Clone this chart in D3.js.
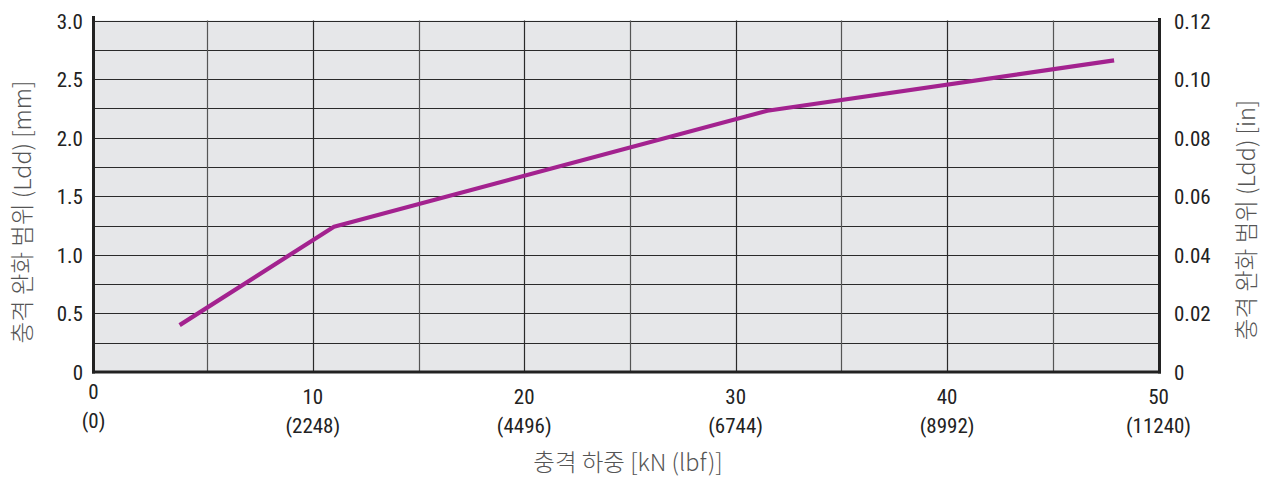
<!DOCTYPE html>
<html>
<head>
<meta charset="utf-8">
<script src="https://cdn.jsdelivr.net/npm/d3@7"></script>
<style>
  html, body { margin: 0; padding: 0; background: #fff; }
  svg { display: block; }
</style>
</head>
<body>
<svg id="chart" width="1268" height="479"></svg>
<script>
// Impact load (kN) vs. shock absorbing range (mm)
const loadKN = [3.7, 11.0, 31.5, 47.9];
const strokeMM = [0.4, 1.24, 2.23, 2.66];

const xTicks = [0, 10, 20, 30, 40, 50];
const xTickLbf = ["(0)", "(2248)", "(4496)", "(6744)", "(8992)", "(11240)"];
const yTicksMM = [0, 0.5, 1.0, 1.5, 2.0, 2.5, 3.0];
const yTicksIn = [0, 0.02, 0.04, 0.06, 0.08, 0.10, 0.12];

const xTitle = "충격 하중 [kN (lbf)]";
const yTitleLeft = "충격 완화 범위 (Ldd) [mm]";
const yTitleRight = "충격 완화 범위 (Ldd) [in]";

const svg = d3.select("#chart");
// frame edges and the value range inside it
const frameL = 93.5, frameR = 1159.5, plotT = 20.5, plotB = 372;
const valL = 101.4, valR = 1158.5;

const x = d3.scaleLinear().domain([0, 50]).range([valL, valR]);
const y = d3.scaleLinear().domain([0, 3]).range([plotB, plotT]);
const yIn = d3.scaleLinear().domain([0, 0.12]).range([plotB, plotT]);

const tickFont = "'Roboto Condensed', 'DejaVu Sans Condensed', sans-serif";
const titleFont = "'Noto Sans CJK KR', 'Noto Sans', sans-serif";

// plot background
svg.append("rect")
  .attr("x", frameL).attr("y", plotT)
  .attr("width", frameR - frameL).attr("height", plotB - plotT)
  .attr("fill", "#e6e7e9");

// grid: horizontal every 0.25 mm, vertical every 5 kN
svg.append("g")
  .selectAll("line")
  .data(d3.range(0.25, 3.01, 0.25))
  .join("line")
  .attr("x1", frameL).attr("x2", frameR)
  .attr("y1", d => Math.round(y(d)) + 0.5).attr("y2", d => Math.round(y(d)) + 0.5)
  .attr("stroke", "#2a2a2a").attr("stroke-width", 1);

svg.append("g")
  .selectAll("line")
  .data(d3.range(5, 50, 5))
  .join("line")
  .attr("x1", d => Math.round(x(d)) + 0.5).attr("x2", d => Math.round(x(d)) + 0.5)
  .attr("y1", plotT).attr("y2", plotB)
  .attr("stroke", d => d % 10 === 0 ? "#2a2a2a" : "#555").attr("stroke-width", 1.2);

// data line
svg.append("path")
  .datum(loadKN.map((v, i) => [v, strokeMM[i]]))
  .attr("d", d3.line().x(d => x(d[0])).y(d => y(d[1])))
  .attr("fill", "none")
  .attr("stroke", "#a3228f")
  .attr("stroke-width", 4.2)
  .attr("stroke-linejoin", "round");

// frame: left, bottom, right axes
svg.append("line").attr("x1", frameL).attr("x2", frameL).attr("y1", 16).attr("y2", plotB + 1.5)
  .attr("stroke", "#222").attr("stroke-width", 3);
svg.append("line").attr("x1", frameR).attr("x2", frameR).attr("y1", 18).attr("y2", plotB + 1.5)
  .attr("stroke", "#222").attr("stroke-width", 3);
svg.append("line").attr("x1", frameL - 1.5).attr("x2", frameR + 1.5).attr("y1", plotB).attr("y2", plotB)
  .attr("stroke", "#222").attr("stroke-width", 3);

// left axis labels
svg.append("g")
  .selectAll("text")
  .data(yTicksMM)
  .join("text")
  .attr("x", 83)
  .attr("y", d => y(d) + 8)
  .attr("text-anchor", "end")
  .attr("font-family", tickFont)
  .attr("font-size", 21)
  .attr("fill", "#222")
  .text(d => d === 0 ? "0" : d3.format(".1f")(d));

// right axis labels
svg.append("g")
  .selectAll("text")
  .data(yTicksIn)
  .join("text")
  .attr("x", 1174)
  .attr("y", d => yIn(d) + 8)
  .attr("text-anchor", "start")
  .attr("font-family", tickFont)
  .attr("font-size", 21)
  .attr("fill", "#222")
  .text(d => d === 0 ? "0" : d3.format(".2f")(d));

// bottom axis labels (kN and lbf); the zero label sits under the frame edge
const xl = svg.append("g");
const labelX = d => d === 0 ? frameL : x(d);
xl.selectAll("text.kn")
  .data(xTicks)
  .join("text")
  .attr("class", "kn")
  .attr("x", labelX)
  .attr("y", d => d === 0 ? 399 : 404)
  .attr("text-anchor", "middle")
  .attr("font-family", tickFont)
  .attr("font-size", 21)
  .attr("fill", "#222")
  .text(d => d);
xl.selectAll("text.lbf")
  .data(xTicks)
  .join("text")
  .attr("class", "lbf")
  .attr("x", labelX)
  .attr("y", d => d === 0 ? 428 : 433)
  .attr("text-anchor", "middle")
  .attr("font-family", tickFont)
  .attr("font-size", 21)
  .attr("fill", "#222")
  .text((d, i) => xTickLbf[i]);

// titles
svg.append("text")
  .attr("x", 628).attr("y", 471)
  .attr("text-anchor", "middle")
  .attr("font-family", titleFont)
  .attr("font-weight", 300)
  .attr("font-size", 23.5)
  .attr("fill", "#555")
  .text(xTitle);

svg.append("text")
  .attr("transform", "translate(31,212) rotate(-90)")
  .attr("text-anchor", "middle")
  .attr("font-family", titleFont)
  .attr("font-weight", 300)
  .attr("font-size", 23.5)
  .attr("fill", "#555")
  .text(yTitleLeft);

svg.append("text")
  .attr("transform", "translate(1255,220) rotate(-90)")
  .attr("text-anchor", "middle")
  .attr("font-family", titleFont)
  .attr("font-weight", 300)
  .attr("font-size", 23.5)
  .attr("fill", "#555")
  .text(yTitleRight);
</script>
</body>
</html>
